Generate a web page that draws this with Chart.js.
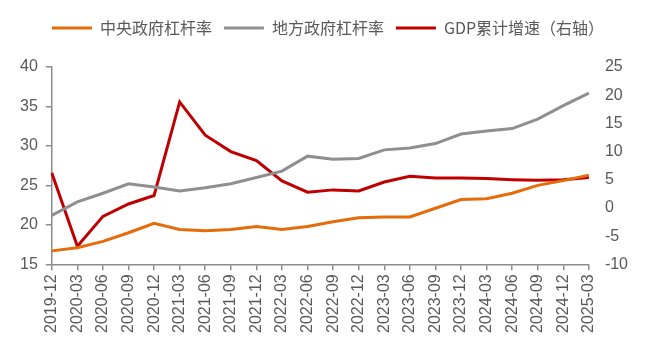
<!DOCTYPE html>
<html>
<head>
<meta charset="utf-8">
<script src="https://cdn.jsdelivr.net/npm/chart.js@4/dist/chart.umd.min.js"></script>
<style>
  html, body { margin: 0; padding: 0; background: #fff; }
  #wrap { width: 650px; height: 354px; }
</style>
</head>
<body>
<div id="wrap"><canvas id="chart"></canvas></div>
<script>
const quarters = ['2019-12','2020-03','2020-06','2020-09','2020-12','2021-03','2021-06','2021-09','2021-12',
  '2022-03','2022-06','2022-09','2022-12','2023-03','2023-06','2023-09','2023-12','2024-03','2024-06','2024-09','2024-12','2025-03'];

// 中央政府杠杆率 (%)
const centralLeverage = [16.7,17.1,17.9,19.0,20.2,19.4,19.25,19.4,19.8,19.4,19.8,20.4,20.9,21.0,21.0,22.1,23.2,23.3,24.0,25.0,25.6,26.3];
// 地方政府杠杆率 (%)
const localLeverage = [21.2,22.9,24.0,25.2,24.8,24.3,24.7,25.2,26.0,26.8,28.7,28.3,28.4,29.5,29.75,30.3,31.5,31.9,32.2,33.4,35.1,36.7];
// GDP累计增速 (%, 右轴)
const gdpGrowth = [6.2,-6.8,-1.5,0.7,2.2,18.8,12.9,10.0,8.4,4.8,2.8,3.2,3.0,4.6,5.6,5.3,5.3,5.2,5.0,4.9,5.0,5.4];

const axisColor = '#8c8c8c';
const textColor = '#595959';

// extra gap under the legend
const legendGap = {
  id: 'legendGap',
  beforeInit(chart) {
    const fit = chart.legend.fit;
    chart.legend.fit = function () {
      fit.bind(this)();
      this.height += 21;
    };
  }
};

const ctx = document.getElementById('chart').getContext('2d');
new Chart(ctx, {
  type: 'line',
  data: {
    labels: quarters,
    datasets: [
      {
        label: '中央政府杠杆率',
        data: centralLeverage,
        borderColor: '#E46C0A',
        backgroundColor: '#E46C0A',
        borderWidth: 3,
        pointRadius: 0,
        yAxisID: 'y'
      },
      {
        label: '地方政府杠杆率',
        data: localLeverage,
        borderColor: '#8F8F8F',
        backgroundColor: '#8F8F8F',
        borderWidth: 3,
        pointRadius: 0,
        yAxisID: 'y'
      },
      {
        label: 'GDP累计增速（右轴）',
        data: gdpGrowth,
        borderColor: '#C00000',
        backgroundColor: '#C00000',
        borderWidth: 3,
        pointRadius: 0,
        yAxisID: 'y1'
      }
    ]
  },
  plugins: [legendGap],
  options: {
    responsive: true,
    maintainAspectRatio: false,
    animation: false,
    layout: { padding: { left: 12, right: 6, top: 8, bottom: 17 } },
    plugins: {
      legend: {
        position: 'top',
        labels: {
          usePointStyle: true,
          pointStyle: 'line',
          pointStyleWidth: 40,
          boxHeight: 3,
          padding: 12,
          color: textColor,
          font: { family: '"Noto Sans CJK SC", sans-serif', size: 16 }
        }
      },
      tooltip: { enabled: false }
    },
    scales: {
      x: {
        offset: false,
        grid: { drawOnChartArea: false, drawTicks: true, tickLength: 6, color: axisColor, lineWidth: 1.5 },
        border: { display: true, color: axisColor, width: 1.5 },
        ticks: {
          autoSkip: false,
          maxRotation: 90,
          minRotation: 90,
          padding: 4,
          color: textColor,
          font: { family: '"Liberation Sans", Arial, sans-serif', size: 16 }
        }
      },
      y: {
        position: 'left',
        min: 15,
        max: 40,
        grid: { drawOnChartArea: false, drawTicks: true, tickLength: 6, color: axisColor, lineWidth: 1.5 },
        border: { display: true, color: axisColor, width: 1.5 },
        ticks: {
          stepSize: 5,
          padding: 8,
          color: textColor,
          font: { family: '"Liberation Sans", Arial, sans-serif', size: 16 }
        }
      },
      y1: {
        position: 'right',
        min: -10,
        max: 25,
        grid: { display: false, drawOnChartArea: false, drawTicks: false },
        border: { display: false },
        ticks: {
          stepSize: 5,
          padding: 16,
          color: textColor,
          font: { family: '"Liberation Sans", Arial, sans-serif', size: 16 }
        }
      }
    }
  }
});
</script>
</body>
</html>
